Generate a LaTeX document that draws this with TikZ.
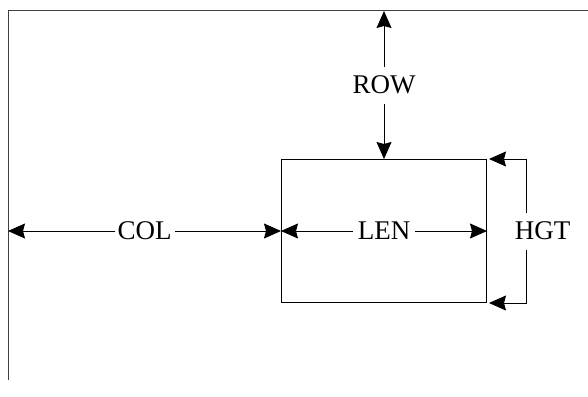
\documentclass[tikz,border=0pt]{standalone}
\usepackage{fontspec}
\setmainfont{Liberation Serif}
\usepackage{tikz}
\usetikzlibrary{arrows.meta, positioning, calc}

\begin{document}
\begin{tikzpicture}[x=1pt, y=-1pt,
    every node/.style={font=\fontsize{27}{32}\selectfont},
    frameline/.style={line width=1pt, color=black!75},
    dimline/.style={{Stealth[length=17pt, width=15pt, inset=2pt]}-{Stealth[length=17pt, width=15pt, inset=2pt]}, line width=1pt},
    dimlabel/.style={fill=white, inner xsep=3pt, inner ysep=0pt, minimum height=37pt}]
    \useasboundingbox (0,0) rectangle (588,396);
    % page frame
    \coordinate (frameTL) at (8,11);
    \coordinate (frameBL) at (8,380);
    \coordinate (frameTR) at (588,11);
    \draw[frameline] (frameBL) -- (frameTL) -- (frameTR);
    % window
    \node[draw, line width=1pt, inner sep=0pt, minimum width=205pt, minimum height=143pt, anchor=north west] (box) at (281,159) {};
    \coordinate (rowTop) at (box.north |- frameTL);
    \coordinate (colLeft) at (frameTL |- box.west);
    \draw[dimline] (rowTop) -- node[dimlabel] (row) {ROW} (box.north);
    \draw[dimline] (colLeft) -- node[dimlabel] (col) {COL} (box.west);
    \draw[dimline] (box.west) -- node[dimlabel, inner xsep=5pt] (len) {LEN} (box.east);
    \draw[dimline] ($(box.north east)+(2,0)$) -- ++(37,0) |- ($(box.south east)+(2,0)$);
    \node[dimlabel] (hgt) at (542.5,231) {HGT};
\end{tikzpicture}
\end{document}
